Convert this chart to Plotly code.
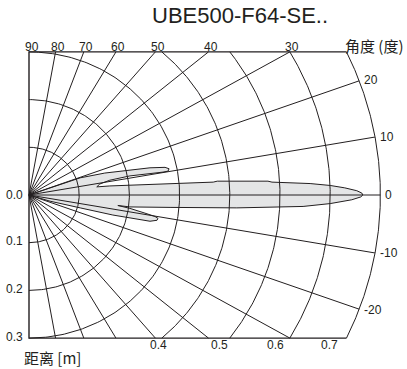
import numpy as np
import plotly.graph_objects as go

# ---------------- data ----------------
title_text = "UBE500-F64-SE.."
angle_axis_title = "角度 (度)"
dist_axis_title = "距离 [m]"

grid_angles = [80, 70, 60, 50, 40, 30, 20, 10, 0, -10, -20, -30, -40, -50, -60, -70, -80]
grid_radii = [0.1, 0.2, 0.3, 0.4, 0.5, 0.6, 0.7]
top_angle_labels = [90, 80, 70, 60, 50, 40, 30]
right_angle_labels = [20, 10, 0, -10, -20]
left_dist_labels = [0.0, 0.1, 0.2, 0.3]
bottom_dist_labels = [0.4, 0.5, 0.6, 0.7]

# beam outline (x = distance along axis [m], y = lateral offset [m])
beam_x = [0.000, 0.042, 0.102, 0.151, 0.201, 0.241, 0.271, 0.279, 0.277, 0.267, 0.201, 0.161,
          0.141, 0.135, 0.161, 0.221, 0.291, 0.367, 0.375, 0.476, 0.484, 0.560, 0.600, 0.629,
          0.653, 0.663, 0.665, 0.661, 0.643, 0.600, 0.546, 0.480, 0.414, 0.281, 0.201, 0.177,
          0.201, 0.231, 0.251, 0.257, 0.255, 0.241, 0.201, 0.167, 0.102, 0.042, 0.000]
beam_y = [0.000, 0.015, 0.036, 0.046, 0.052, 0.057, 0.058, 0.055, 0.050, 0.048, 0.040, 0.031,
          0.023, 0.017, 0.019, 0.021, 0.024, 0.027, 0.029, 0.029, 0.027, 0.024, 0.020, 0.015,
          0.009, 0.004, 0.000, -0.004, -0.010, -0.018, -0.024, -0.026, -0.027, -0.026, -0.025, -0.022,
          -0.028, -0.038, -0.045, -0.049, -0.053, -0.055, -0.048, -0.042, -0.027, -0.013, 0.000]

# ---------------- geometry / style ----------------
HALF = 0.3          # half-height of the frame [m]
RMAX = max(grid_radii)
INK = "#231f20"
FILL = "#e4e5e6"
NUM_FONT = dict(family="Liberation Sans, Arial, sans-serif", size=12, color=INK)
CJK_FONT = dict(family="Noto Sans CJK SC, sans-serif", size=15, color=INK)

SX, SY = 502.0, 477.0     # px per metre
OX, OY = 29.0, 195.0      # pixel of origin
W, H = 407, 369

fig = go.Figure()

# beam pattern
fig.add_trace(go.Scatter(x=beam_x, y=beam_y, mode="lines", fill="toself",
                         fillcolor=FILL, line=dict(color=INK, width=1),
                         hoverinfo="skip", showlegend=False))

# arcs
gx, gy = [], []
for r in grid_radii:
    tmax = np.pi / 2 if r <= HALF else np.arcsin(HALF / r)
    t = np.linspace(-tmax, tmax, 200)
    gx += list(r * np.cos(t)) + [None]
    gy += list(r * np.sin(t)) + [None]

# radial lines
tlim = np.degrees(np.arcsin(HALF / RMAX))
for a in grid_angles:
    rad = np.radians(a)
    if abs(a) <= tlim:
        ex, ey = RMAX * np.cos(rad), RMAX * np.sin(rad)
    else:
        ey = HALF * np.sign(a)
        ex = HALF / np.tan(abs(rad))
    gx += [0, ex, None]
    gy += [0, ey, None]

fig.add_trace(go.Scatter(x=gx, y=gy, mode="lines", line=dict(color=INK, width=1),
                         hoverinfo="skip", showlegend=False))

# frame (left, top, bottom edges)
xe = np.sqrt(RMAX ** 2 - HALF ** 2)
fig.add_trace(go.Scatter(x=[xe, 0, 0, xe], y=[HALF, HALF, -HALF, -HALF], mode="lines",
                         line=dict(color=INK, width=1.4), hoverinfo="skip", showlegend=False))

ann = []
px = 1.0 / SX
py = 1.0 / SY
# title
ann.append(dict(x=(240 - OX) * px, y=(OY - 15) * py, text=title_text, showarrow=False,
                xanchor="center", yanchor="middle",
                font=dict(family="Liberation Sans, Arial, sans-serif", size=22, color=INK)))
# angle axis title
ann.append(dict(x=(374 - OX) * px, y=(OY - 45) * py, text=angle_axis_title, showarrow=False,
                xanchor="center", yanchor="middle", font=CJK_FONT))
# distance axis title
ann.append(dict(x=(22 - OX) * px, y=(OY - 357) * py, text=dist_axis_title, showarrow=False,
                xanchor="left", yanchor="middle", font=CJK_FONT))
# top angle labels
for a in top_angle_labels:
    xx = 0.0 if a == 90 else HALF / np.tan(np.radians(a))
    ann.append(dict(x=xx + 2.5 * px, y=(OY - 47) * py, text=str(a), showarrow=False,
                    xanchor="center", yanchor="middle", font=NUM_FONT))
# right angle labels
for a in right_angle_labels:
    rad = np.radians(a)
    rr = RMAX + 0.006
    ann.append(dict(x=rr * np.cos(rad), y=rr * np.sin(rad), text=str(a), showarrow=False,
                    xanchor="left", yanchor="middle", font=NUM_FONT))
# left distance labels
for d in left_dist_labels:
    ann.append(dict(x=-4 * px, y=-d + 1.5 * py * (d > 0), text=f"{d:.1f}", showarrow=False,
                    xanchor="right", yanchor="middle", font=NUM_FONT))
# bottom distance labels
bottom_nudge_px = [-3, -10, -14, -17]
for d, nud in zip(bottom_dist_labels, bottom_nudge_px):
    xx = np.sqrt(d ** 2 - HALF ** 2) + nud * px
    ann.append(dict(x=xx, y=(OY - 345) * py, text=f"{d:.1f}", showarrow=False,
                    xanchor="center", yanchor="middle", font=NUM_FONT))

fig.update_layout(
    width=W, height=H,
    margin=dict(l=0, r=0, t=0, b=0),
    paper_bgcolor="white", plot_bgcolor="white",
    xaxis=dict(range=[-OX * px, (W - OX) * px], visible=False, fixedrange=True),
    yaxis=dict(range=[-(H - OY) * py, OY * py], visible=False, fixedrange=True),
    annotations=ann,
    showlegend=False,
)

fig.write_html("out.html", config=dict(displayModeBar=False),
               post_script="document.body.style.margin='0';document.body.style.overflow='hidden';")
